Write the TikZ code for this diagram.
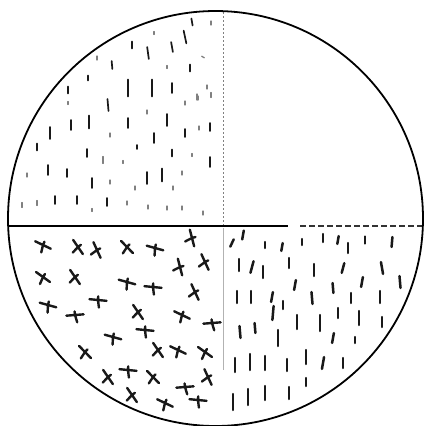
\documentclass[tikz,border=0pt]{standalone}
\begin{document}
\begin{tikzpicture}[x=1pt,y=-1pt,
  tl/.style={line width=1.7pt,black!90,line cap=round},
  tlf/.style={line width=1.3pt,black!50,line cap=round},
  br/.style={line width=2.5pt,black!90,line cap=round},
  ym/.style={line width=2.4pt,black!90,line cap=round}]
\useasboundingbox (0,0) rectangle (424,426);
\clip (0,0) rectangle (424,426);
% quadrant dividers
\draw[line width=1pt,black!50,dash pattern=on 2pt off 2pt] (223,12) -- (223,226);
\draw[line width=0.8pt,black!30] (223,228) -- (223,370);
\draw[line width=1.8pt] (8,226) -- (288,226);
\draw[line width=1.5pt,black!80,dash pattern=on 6pt off 3pt] (300,226) -- (424,226);
% circle
\draw[line width=1.8pt] (215.5,218.5) circle[radius=207.5pt];
% upper-left dashes
\foreach \x/\y/\l/\a in {192/22/7/10,185/37/13/12,132/45/7/0,172/47/10/10,148/53/12/8,112/65/8/5,190/68/7/0,88/78/5/0,68/90/7/0,128/88/17/0,152/88/17/0,172/88/10/0,108/105/12/5,71/125/10/0,89/122/13/0,128/123/10/0,167/120/12/0,210/127/8/0,50/133/12/0,154/138/10/0,185/133/8/0,37/147/7/0,87/153/8/0,172/153/7/0,210/162/10/0,48/170/10/0,67/173/8/0,147/178/12/0,162/175/13/0,92/183/10/0,55/200/8/0,77/200/8/0,107/202/8/0,137/147/4/0,190/68/5/0}
  \draw[tl,rotate around={\a:(\x,\y)}] (\x,{\y-\l/2}) -- (\x,{\y+\l/2});
\foreach \x/\y/\l/\a in {211/23/4/0,154/33/3/0,203/57/3/60,97/58/4/0,167/67/3/0,207/87/4/0,68/103/3/0,147/112/4/0,185/103/4/0,198/98/4/0,199/128/4/0,110/135/4/0,192/155/3/0,103/160/7/0,123/162/3/0,27/175/4/0,182/173/4/0,110/182/4/0,135/188/4/0,173/188/4/0,37/203/5/0,92/210/3/0,127/203/4/0,148/207/4/0,167/208/4/0,182/208/4/0,203/213/4/0,22/205/5/0,197/97/6/0,211/95/5/0}
  \draw[tlf,rotate around={\a:(\x,\y)}] (\x,{\y-\l/2}) -- (\x,{\y+\l/2});
% lower-right dashes
\foreach \x/\y/\l/\a in {232/243/8/-25,243/235/9/-10,265/245/6/0,282/247/8/-10,302/242/6/0,323/238/8/0,338/240/8/-10,348/248/10/0,365/240/7/0,392/242/10/-5,
  239/265/12/0,252/267/12/-15,263/272/12/0,289/263/10/0,314/270/12/0,343/268/10/-15,362/282/10/-10,382/268/12/10,400/282/12/5,295/285/10/-10,
  237/297/12/0,251/297/12/0,272/297/10/-10,283/305/8/0,312/298/12/5,333/288/10/5,351/298/10/0,380/297/12/0,273/313/14/-5,297/322/14/0,320/323/16/0,338/313/10/0,359/318/14/0,382/322/10/0,
  240/332/12/5,255/328/10/5,278/338/16/0,333/338/10/-10,355/340/6/0,
  235/365/14/0,250/362/16/0,265/363/14/0,287/365/12/0,306/357/14/0,323/363/12/-10,343/363/10/0,
  233/402/16/0,248/397/16/0,265/393/14/0,289/393/12/0,306/382/8/0}
  \draw[br,rotate around={\a:(\x,\y)}] (\x,{\y-\l/2}) -- (\x,{\y+\l/2});
% lower-left Y marks
\foreach \x/\y/\a in {43/245/10,78/247/-20,97/250/-30,127/247/-10,155/248/20,192/238/-40,205/262/-30,180/267/-40,
  43/277/0,75/277/-20,127/282/20,153/287/30,195/292/-30,
  48/305/20,75/315/40,98/300/30,138/312/-20,182/315/10,212/323/40,
  113/337/20,145/330/30,85/352/-10,158/350/-20,178/350/10,205/352/0,
  108/377/-20,128/370/30,153/377/-10,185/387/40,208/377/-30,
  132/395/-20,165/403/10,198/400/30}
  \draw[ym,shift={(\x,\y)},rotate=\a] (-7,-5) -- (7,5) (0,0) -- (-3,7) (0,0) -- (2,-3);
\end{tikzpicture}
\end{document}
